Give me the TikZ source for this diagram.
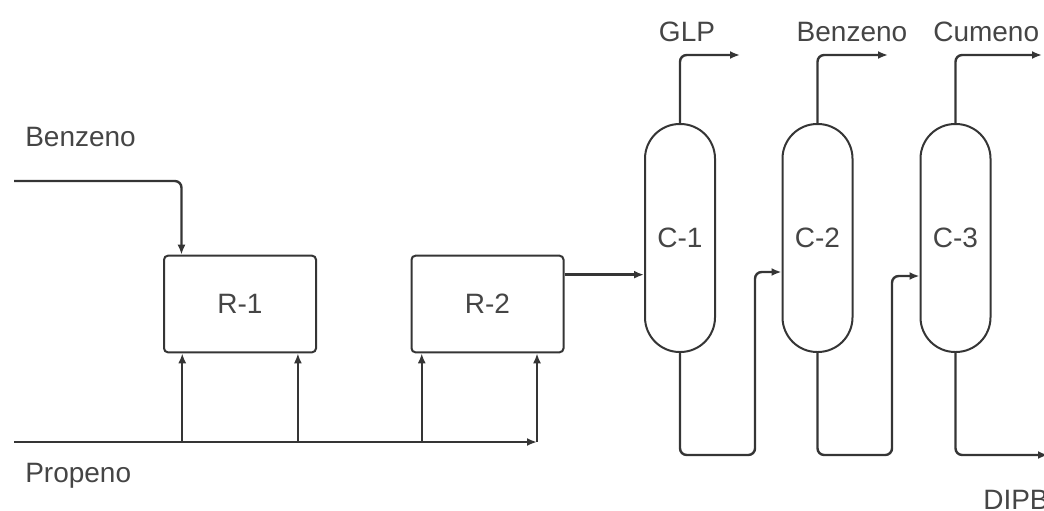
\documentclass[tikz,border=0pt]{standalone}
\usepackage{fontspec}
\setmainfont{Liberation Sans}
\usetikzlibrary{arrows.meta,calc}
\definecolor{linha}{HTML}{353535}
\definecolor{texto}{HTML}{454545}
\tikzset{
  reator/.style={draw=linha, line width=1.5pt, rounded corners=3pt,
    minimum width=114pt, minimum height=72.5pt, text=texto},
  coluna/.style={draw=linha, line width=1.5pt, rounded corners=26pt,
    minimum width=52.5pt, minimum height=171pt, text=texto},
  fluxo/.style={draw=linha, line width=1.8pt, rounded corners=5pt},
  rotulo/.style={text=texto, inner sep=0pt},
}
\begin{document}
\begin{tikzpicture}[x=0.75pt, y=-0.75pt, >={Latex[length=7.5pt,width=6pt]},
  font=\fontsize{21}{25}\selectfont]
\useasboundingbox (0,0) rectangle (1044,510);
% Reatores
\node[reator] (r1) at (240,304) {R-1};
\node[reator] (r2) at (487.5,304) {R-2};
% Colunas
\node[coluna] (c1) at (680,238) {C-1};
\node[coluna] (c2) at (817.5,238) {C-2};
\node[coluna] (c3) at (955.5,238) {C-3};
% Correntes de entrada
\node[rotulo, anchor=base west] (lbz) at (25,146) {Benzeno};
\node[rotulo, anchor=base west] (lpp) at (25,482) {Propeno};
\coordinate (bz) at (14,181);
\coordinate (pp) at (14,442);
\coordinate (pe) at (537,442);
\coordinate (a0) at ($(r1.north west)!0.12!(r1.north east)$);
\coordinate (a1) at ($(r1.south west)!0.125!(r1.south east)$);
\coordinate (a2) at ($(r1.south west)!0.876!(r1.south east)$);
\coordinate (a3) at ($(r2.south west)!0.073!(r2.south east)$);
\coordinate (a4) at (r2.south -| pe);
\draw[fluxo,->] (bz) -| (a0);
\draw[fluxo,->] (pp) -- (pe);
\draw[fluxo,->] (pe) -- (a4);
\foreach \a in {a1,a2,a3}
  \draw[fluxo,->] (pp -| \a) -- (\a);
% R-2 para C-1
\coordinate (s2) at ($(r2.north east)+(0,20)$);
\draw[fluxo,->] (s2) -- (s2 -| c1.west);
% Topos das colunas
\node[rotulo, anchor=base] (lglp) at (687,42) {GLP};
\node[rotulo, anchor=base] (lbz2) at (852,42) {Benzeno};
\node[rotulo, anchor=base west] (lcum) at (933,42) {Cumeno};
\coordinate (t1) at (740,55);
\coordinate (t2) at (888,55);
\coordinate (t3) at (1042,55);
\draw[fluxo,->] (c1.north) |- (t1);
\draw[fluxo,->] (c2.north) |- (t2);
\draw[fluxo,->] (c3.north) |- (t3);
% Fundos das colunas
\coordinate (v1) at (755,455);
\coordinate (v2) at (892,455);
\coordinate (d3) at (1048,455);
\draw[fluxo,->] (c1.south) |- (v1) |- ($(c2.west)+(0,34)$);
\draw[fluxo,->] (c2.south) |- (v2) |- ($(c3.west)+(0,38)$);
\draw[fluxo,->] (c3.south) |- (d3);
\node[rotulo, anchor=base west] (ldipb) at (983,509) {DIPB};
\end{tikzpicture}
\end{document}
